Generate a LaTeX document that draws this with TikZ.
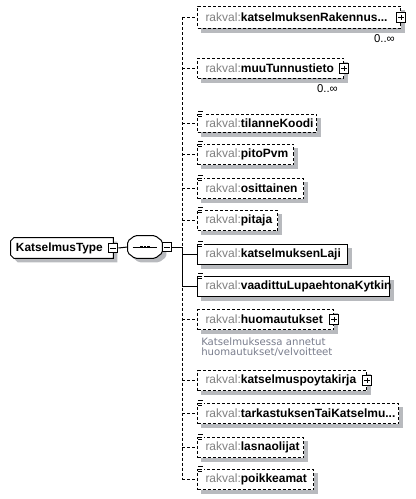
\documentclass[tikz,border=0pt]{standalone}
\usepackage{fontspec}
\setmainfont{Liberation Sans}
\newfontfamily\docfont{DejaVu Sans}
\usepackage{tikz}
\usetikzlibrary{
    calc,
    backgrounds
}

\definecolor{prefixgray}{RGB}{128,128,128}
\definecolor{docgray}{RGB}{120,124,140}
\definecolor{boxshade}{RGB}{184,186,190}

\newcommand{\rk}[1]{\mbox{\textcolor{prefixgray}{rakval:}\textbf{#1}}}
\newcommand{\txticon}[1]{%
    \fill[white] ([xshift=0.4pt,yshift=2.4pt]#1.north west) rectangle ([xshift=5pt,yshift=-2pt]#1.north west);
    \draw[line width=0.6pt] ([xshift=1pt,yshift=1.6pt]#1.north west) -- ++(3.6pt,0);
    \draw[line width=0.6pt] ([xshift=1pt,yshift=0pt]#1.north west) -- ++(3pt,0);
    \draw[line width=0.6pt] ([xshift=1pt,yshift=-1.6pt]#1.north west) -- ++(3pt,0);
}
\newcommand{\typeoutline}[1]{%
    ([xshift=2.25pt+#1,yshift=-#1]type.north west) -- ([xshift=#1,yshift=-#1]type.north east)
    -- ([xshift=#1,yshift=-#1]type.south east) -- ([xshift=2.25pt+#1,yshift=-#1]type.south west)
    -- ([xshift=#1,yshift=2.25pt-#1]type.south west) -- ([xshift=#1,yshift=-2.25pt-#1]type.north west) -- cycle}
\newcommand{\seqoutline}[1]{%
    ([xshift=5.25pt+#1,yshift=-#1]seq.north west) -- ([xshift=-5.25pt+#1,yshift=-#1]seq.north east)
    -- ([xshift=#1,yshift=-4pt-#1]seq.north east) -- ([xshift=#1,yshift=4pt-#1]seq.south east)
    -- ([xshift=-5.25pt+#1,yshift=-#1]seq.south east) -- ([xshift=5.25pt+#1,yshift=-#1]seq.south west)
    -- ([xshift=#1,yshift=4pt-#1]seq.south west) -- ([xshift=#1,yshift=-4pt-#1]seq.north west) -- cycle}

\tikzset{
    boxline/.style={line width=0.75pt},
    elem/.style={boxline, draw, fill=white, anchor=north west,
        inner xsep=6pt, inner ysep=0pt, minimum height=15pt,
        align=left, text width=#1, font=\fontsize{9}{10}\selectfont},
    optelem/.style={elem=#1, dash pattern=on 2.25pt off 1.5pt},
    conn/.style={line width=0.75pt},
    optconn/.style={conn, dash pattern=on 2.25pt off 1.5pt},
    plusbox/.style={draw, solid, fill=white, line width=0.75pt, minimum size=7pt, inner sep=0pt,
        path picture={
            \draw[line width=0.75pt] ([xshift=1.4pt]path picture bounding box.west) -- ([xshift=-1.4pt]path picture bounding box.east);
            \draw[line width=0.75pt] ([yshift=-1.4pt]path picture bounding box.north) -- ([yshift=1.4pt]path picture bounding box.south);
        }},
    minusbox/.style={draw, solid, fill=white, line width=0.75pt, minimum size=7pt, inner sep=0pt,
        path picture={
            \draw[line width=0.75pt] ([xshift=1.4pt]path picture bounding box.west) -- ([xshift=-1.4pt]path picture bounding box.east);
        }},
    mult/.style={anchor=north east, inner sep=0pt, font=\fontsize{8.5}{10}\selectfont},
    doc/.style={anchor=north west, inner sep=0pt, align=left, text=docgray, font=\docfont\fontsize{7.6}{7.6}\selectfont}
}

\begin{document}
\begin{tikzpicture}[x=0.75pt,y=-0.75pt]

\useasboundingbox (0,0) rectangle (415,499);

\coordinate (trunk) at (182,247);

\node[optelem=140.25pt, minimum height=16.5pt] (e1) at (197,6) {\rk{katselmuksenRakennus...}};
\node[optelem=97.5pt] (e2) at (197,58) {\rk{muuTunnustieto}};
\node[optelem=77.25pt, minimum height=13.5pt] (e3) at (197,114) {\rk{tilanneKoodi}};
\node[optelem=60pt] (e4) at (197,144) {\rk{pitoPvm}};
\node[optelem=67.5pt] (e5) at (197,178) {\rk{osittainen}};
\node[optelem=48pt] (e6) at (197,210) {\rk{pitaja}};
\node[elem=100.5pt] (e7) at (197,244) {\rk{katselmuksenLaji}};
\node[elem=132pt] (e8) at (197,276) {\rk{vaadittuLupaehtonaKytkin}};
\node[optelem=90pt] (e9) at (197,309) {\rk{huomautukset}};
\node[optelem=114.75pt] (e10) at (197,370) {\rk{katselmuspoytakirja}};
\node[optelem=138.75pt] (e11) at (197,403) {\rk{tarkastuksenTaiKatselmu...}};
\node[optelem=67.5pt] (e12) at (197,437) {\rk{lasnaolijat}};
\node[optelem=75pt] (e13) at (197,469) {\rk{poikkeamat}};

\foreach \n in {e3,e4,e5,e6,e7,e8,e11,e12,e13}
    {\txticon{\n}}

\foreach \n in {e1,e2,e9,e10}
    \node[plusbox] (\n-plus) at (\n.east) {};

\node[mult] (e1-mult) at ([xshift=-4.5pt,yshift=-4pt]e1.south east) {0..∞};
\node[mult] (e2-mult) at ([xshift=-4.5pt,yshift=-4pt]e2.south east) {0..∞};
\node[doc] (e9-doc) at ([xshift=3pt,yshift=-5.5pt]e9.south west) {Katselmuksessa annetut\\huomautukset/velvoitteet};

\node[inner xsep=3.75pt, inner ysep=0pt, minimum width=76.5pt, minimum height=15pt,
    text width=69pt, align=left, font=\fontsize{8.9}{10}\selectfont\bfseries] (type) at (62,248) {KatselmusType};
\node[inner sep=0pt, minimum width=25.5pt, minimum height=16.5pt] (seq) at (145,247) {};

\begin{scope}[on background layer]
\foreach \n in {e1,e2,e3,e4,e5,e6,e7,e8,e9,e10,e11,e12,e13}
    {\fill[boxshade] ([xshift=3pt,yshift=-3pt]\n.south west) rectangle ([xshift=3pt,yshift=-3pt]\n.north east);}
\fill[boxshade] \typeoutline{3pt};
\fill[boxshade, rounded corners=1.2pt] \seqoutline{3pt};
\draw[boxline, fill=white] \typeoutline{0pt};
\draw[boxline, fill=white, rounded corners=1.2pt] \seqoutline{0pt};
\end{scope}

\draw[conn] ([xshift=3.75pt]seq.west) -- ([xshift=-3.75pt]seq.east);
\foreach \d in {-2.6pt,0pt,2.6pt}
    \fill ([xshift=\d]seq.center) +(-0.9pt,-0.9pt) rectangle +(0.9pt,0.9pt);

\node[minusbox] (type-minus) at (type.east) {};
\node[minusbox] (seq-minus) at ([xshift=3.5pt]seq.east) {};

\draw[conn] (type-minus.east) -- (seq.west);
\draw[conn] (seq-minus.east) -- (trunk);

\draw[optconn] (trunk |- e1.west) -- (trunk |- e13.west);
\draw[conn] (trunk) -- (trunk |- e8.west);

\foreach \n in {e1,e2,e3,e4,e5,e6,e9,e10,e11,e12,e13}
    \draw[optconn] (trunk |- \n.west) -- (\n.west);
\foreach \n in {e7,e8}
    \draw[conn] (trunk |- \n.west) -- (\n.west);

\end{tikzpicture}
\end{document}
